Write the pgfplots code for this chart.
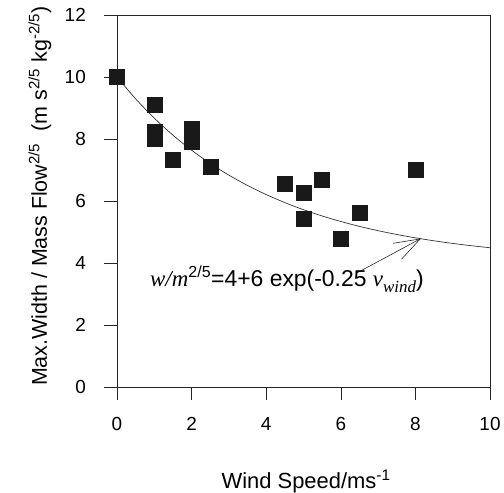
\documentclass[border=0pt]{standalone}
\usepackage{pgfplots}
\pgfplotsset{compat=1.18}
\usepackage{fontspec}
\setmainfont{Liberation Sans}
\newfontfamily\serif{Liberation Serif}
\usetikzlibrary{arrows.meta}
\begin{document}
\begin{tikzpicture}
\begin{axis}[
  scale only axis,
  width=373bp, height=372bp,
  xmin=0, xmax=10, ymin=0, ymax=12,
  xtick={0,2,...,10}, ytick={0,2,...,12},
  tick align=outside, xtick pos=bottom, ytick pos=left,
  major tick length=13bp,
  tick style={black!85, line width=0.6pt},
  axis line style={black!85, line width=0.6pt},
  /pgf/number format/assume math mode=true,
  ticklabel style={font=\fontsize{19}{22}\selectfont, inner sep=0pt},
  xticklabel shift=17bp,
  yticklabel shift=18bp,
  label style={font=\fontsize{21.5}{25}\selectfont},
  xlabel={Wind Speed/ms\textsuperscript{-1}},
  ylabel={Max.Width / Mass Flow\textsuperscript{2/5}\ \ (m s\textsuperscript{2/5} kg\textsuperscript{-2/5})},
  xlabel style={at={(axis description cs:0.507,-0.2715)}, anchor=base, font=\fontsize{22}{25}\selectfont},
  ylabel style={at={(axis description cs:-0.1877,0.513)}, anchor=base},
  clip=false,
]
\addplot[only marks, mark=square*, mark size=7.5bp, mark options={fill=black!90, draw=black!90}] coordinates {
(0,10) (1,9.12) (1,8.25) (1,8.0) (1.5,7.32) (2,8.33) (2,8.1) (2,7.9) (2.5,7.12)
(4.5,6.55) (5,6.28) (5,5.43) (5.5,6.68) (6,4.8) (6.5,5.63) (8,7.0)
};
\addplot[smooth, line width=0.7pt, black!80] coordinates {
(0,10) (0.5,9.295) (1,8.673) (1.5,8.124) (2,7.639) (2.5,7.212) (3,6.834)
(3.5,6.501) (4,6.207) (4.5,5.948) (5,5.719) (5.5,5.517) (6,5.339) (6.5,5.181)
(7,5.043) (7.5,4.920) (8,4.812) (8.5,4.716) (9,4.632) (9.5,4.558) (10,4.492)
};
\draw[line width=0.6pt, black!85, -{Straight Barb[length=26bp, width=18bp, line width=0.6pt]}] (axis cs:6.43,3.68) -- (axis cs:8.15,4.79);
\node[font=\fontsize{23}{26}\selectfont, anchor=base west, inner sep=0pt] at (axis cs:0.885,3.23)
  {{\serif\itshape w/m}\textsuperscript{2/5}=4+6 exp(-0.25 {\serif\itshape v}\raisebox{-0.5ex}{\serif\itshape\fontsize{17}{19}\selectfont wind})};
\end{axis}
\pgfresetboundingbox
\path[use as bounding box] ([shift={(-117bp,-106bp)}]current axis.south west) rectangle ([shift={(14bp,15bp)}]current axis.north east);
\end{tikzpicture}
\end{document}
